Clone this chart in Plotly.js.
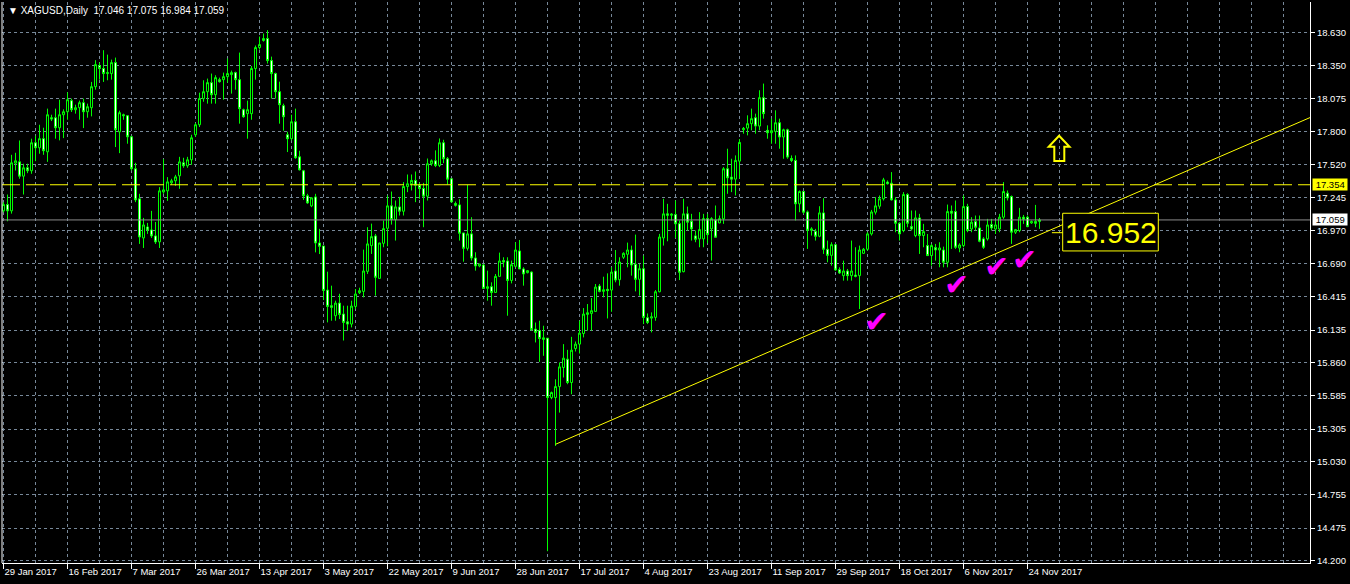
<!DOCTYPE html>
<html><head><meta charset="utf-8">
<script src="https://cdn.plot.ly/plotly-3.0.1.min.js"></script>
<style>html,body{margin:0;padding:0;background:#000;}#chart{width:1350px;height:584px;}</style>
</head><body><div id="chart"></div>
<script>
const openP = [
17.135,17.188,17.135,17.535,17.546,17.426,17.496,17.471,17.706,17.664,
17.740,17.630,17.916,17.916,17.832,17.941,17.966,18.059,17.983,18.000,
18.042,17.966,18.000,18.176,18.353,18.328,18.286,18.286,18.378,17.798,
17.941,17.933,17.756,17.488,17.236,16.908,17.000,16.975,16.925,16.875,
17.294,17.303,17.370,17.387,17.429,17.538,17.513,17.563,17.773,17.857,
18.076,18.134,18.210,18.109,18.235,18.235,18.260,18.277,18.294,18.235,
17.983,17.950,17.950,18.328,18.504,18.563,18.580,18.395,18.286,18.134,
18.017,17.773,17.740,17.882,17.588,17.471,17.261,17.177,17.252,16.866,
16.841,16.471,16.340,16.256,16.362,16.270,16.205,16.186,16.334,16.449,
16.460,16.628,16.844,16.925,16.569,16.863,16.989,17.177,17.062,17.168,
17.132,17.339,17.362,17.390,17.350,17.322,17.258,17.530,17.555,17.516,
17.706,17.572,17.404,17.196,17.185,16.950,16.821,16.942,16.740,16.673,
16.681,16.485,16.499,16.451,16.586,16.718,16.715,16.552,16.670,16.799,
16.648,16.617,16.622,16.144,16.132,16.057,16.068,15.570,15.570,15.662,
15.822,15.892,15.696,15.981,16.018,16.107,16.267,16.275,16.292,16.505,
16.460,16.477,16.471,16.631,16.558,16.746,16.771,16.807,16.687,16.561,
16.650,16.239,16.236,16.242,16.457,16.908,17.110,17.098,17.104,17.028,
16.625,17.110,17.048,16.925,16.900,16.900,17.070,16.984,17.059,17.034,
17.068,17.488,17.418,17.401,17.552,17.815,17.829,17.866,17.916,17.846,
18.084,17.810,17.790,17.801,17.874,17.754,17.815,17.574,17.558,17.194,
17.297,17.126,16.972,16.964,16.922,17.118,16.813,16.762,16.852,16.642,
16.592,16.631,16.592,16.597,16.592,16.779,16.813,16.942,17.124,17.174,
17.236,17.376,17.367,17.227,17.031,16.970,17.272,17.003,16.928,17.076,
16.928,16.844,16.760,16.827,16.807,16.807,16.704,17.132,17.129,16.824,
16.844,17.171,16.983,17.045,16.992,16.900,16.900,17.020,16.983,16.983,
17.082,17.283,17.255,16.956,16.970,17.082,17.082,17.034,17.045,17.046];
const highP = [
17.208,17.272,17.605,17.622,17.725,17.530,17.530,17.740,17.765,17.857,
17.832,17.992,17.941,17.992,18.067,17.986,18.129,18.076,18.025,18.059,
18.076,18.034,18.216,18.398,18.378,18.482,18.445,18.403,18.420,17.975,
17.950,17.933,17.765,17.538,17.278,17.076,17.034,17.135,17.042,17.334,
17.569,17.418,17.404,17.437,17.588,17.580,17.588,17.773,17.871,18.126,
18.230,18.244,18.286,18.272,18.252,18.294,18.412,18.311,18.302,18.462,
17.992,18.059,18.350,18.521,18.596,18.622,18.650,18.428,18.294,18.218,
18.034,17.798,17.941,17.992,17.639,17.479,17.278,17.250,17.278,16.984,
16.841,16.625,16.508,16.382,16.440,16.340,16.340,16.382,16.480,16.491,
16.810,16.998,17.028,16.942,16.866,17.054,17.264,17.297,17.222,17.252,
17.376,17.440,17.440,17.465,17.370,17.370,17.574,17.566,17.642,17.742,
17.731,17.586,17.404,17.213,17.233,16.950,17.353,17.082,16.788,16.690,
16.690,16.634,16.536,16.606,16.785,16.746,16.746,16.718,16.872,16.891,
16.662,16.639,16.628,16.199,16.214,16.172,16.068,15.620,15.723,15.864,
16.018,15.970,16.079,16.040,16.214,16.320,16.354,16.404,16.522,16.522,
16.583,16.611,16.662,16.807,16.746,16.788,16.869,16.844,16.936,16.690,
16.760,16.275,16.284,16.471,16.942,17.236,17.194,17.115,17.222,17.054,
17.236,17.171,17.110,16.970,17.124,17.110,17.110,17.082,17.180,17.096,
17.502,17.656,17.572,17.600,17.737,17.838,17.936,17.992,17.950,18.146,
18.202,17.852,17.908,17.978,17.908,17.824,17.824,17.600,17.600,17.306,
17.297,17.138,16.998,16.984,17.174,17.241,16.886,16.872,16.858,16.662,
16.718,16.648,16.886,16.830,16.844,16.824,16.956,17.143,17.250,17.264,
17.412,17.390,17.460,17.250,17.040,17.292,17.283,17.138,17.138,17.110,
17.026,16.941,16.858,16.858,16.872,16.835,17.188,17.180,17.222,16.863,
17.264,17.194,17.082,17.096,17.096,16.914,17.068,17.068,17.054,17.110,
17.376,17.306,17.264,16.984,17.160,17.101,17.096,17.054,17.185,17.075];
const lowP = [
17.123,17.048,17.112,17.474,17.404,17.272,17.451,17.446,17.552,17.614,
17.605,17.546,17.888,17.740,17.726,17.745,17.899,17.964,17.950,17.899,
17.829,17.916,17.927,18.151,18.235,18.216,18.230,18.235,17.670,17.619,
17.899,17.698,17.474,17.208,16.858,16.824,16.942,16.908,16.858,16.824,
17.278,17.219,17.353,17.345,17.320,17.496,17.496,17.521,17.754,17.838,
18.050,18.034,18.034,18.034,18.210,18.067,18.210,18.118,18.151,17.866,
17.916,17.740,17.899,18.235,18.487,18.554,18.370,18.076,18.076,17.866,
17.807,17.628,17.726,17.572,17.474,17.227,17.194,17.166,16.787,16.773,
16.387,16.200,16.214,16.214,16.228,16.048,16.130,16.158,16.312,16.438,
16.410,16.606,16.774,16.424,16.569,16.830,16.838,17.020,16.886,17.096,
17.096,17.292,17.306,17.208,17.236,16.998,17.222,17.513,17.502,17.502,
17.535,17.356,17.208,17.171,16.886,16.709,16.802,16.718,16.634,16.662,
16.480,16.382,16.340,16.451,16.586,16.662,16.256,16.527,16.662,16.648,
16.508,16.611,16.130,16.032,15.869,15.920,14.282,15.556,15.164,15.444,
15.738,15.682,15.598,15.956,15.939,16.074,16.130,16.130,16.292,16.452,
16.410,16.233,16.289,16.536,16.508,16.732,16.662,16.592,16.460,16.424,
16.186,16.186,16.116,16.214,16.452,16.844,16.880,17.054,16.908,16.555,
16.620,16.970,16.886,16.872,16.830,16.830,16.863,16.718,16.914,17.031,
17.026,17.278,17.292,17.264,17.404,17.782,17.768,17.810,17.782,17.810,
17.908,17.740,17.698,17.698,17.656,17.572,17.572,17.544,17.054,17.124,
17.110,16.816,16.928,16.886,16.914,16.774,16.704,16.676,16.634,16.606,
16.550,16.550,16.550,16.578,16.312,16.774,16.802,16.928,17.104,17.152,
17.222,17.356,17.222,16.956,16.886,16.956,16.998,16.970,16.914,16.774,
16.830,16.760,16.676,16.718,16.662,16.662,16.662,16.816,16.816,16.788,
16.830,16.956,16.956,16.970,16.872,16.816,16.886,16.970,16.941,16.956,
17.068,17.222,16.858,16.941,16.956,17.026,16.998,17.026,16.998,16.984];
const closeP = [
17.188,17.135,17.538,17.555,17.426,17.496,17.471,17.706,17.664,17.740,
17.639,17.941,17.905,17.832,17.941,17.966,18.067,17.983,18.000,18.042,
17.966,18.008,18.176,18.361,18.328,18.286,18.294,18.378,17.815,17.958,
17.933,17.756,17.488,17.227,16.916,17.017,16.975,16.925,16.875,17.303,
17.311,17.378,17.387,17.420,17.546,17.513,17.563,17.748,17.857,18.076,
18.134,18.210,18.109,18.252,18.218,18.260,18.286,18.294,18.235,17.992,
17.924,17.983,18.328,18.504,18.529,18.580,18.395,18.286,18.134,18.025,
17.924,17.740,17.882,17.580,17.479,17.261,17.202,17.244,16.866,16.838,
16.468,16.334,16.326,16.362,16.267,16.200,16.186,16.337,16.438,16.466,
16.631,16.858,16.919,16.578,16.866,16.986,17.177,17.062,17.168,17.132,
17.339,17.362,17.390,17.350,17.322,17.258,17.530,17.555,17.516,17.706,
17.572,17.401,17.210,17.182,16.947,16.821,16.942,16.740,16.673,16.690,
16.485,16.499,16.451,16.586,16.715,16.706,16.552,16.684,16.807,16.648,
16.606,16.634,16.141,16.116,16.065,16.071,15.570,15.612,15.662,15.827,
15.900,15.696,15.967,16.018,16.110,16.270,16.281,16.298,16.496,16.460,
16.474,16.466,16.622,16.555,16.706,16.779,16.807,16.681,16.561,16.650,
16.242,16.200,16.247,16.457,16.916,17.110,17.098,17.107,17.026,16.620,
17.110,17.040,16.984,16.897,16.978,17.070,16.936,17.070,16.914,17.070,
17.488,17.412,17.401,17.558,17.709,17.826,17.866,17.908,17.846,18.084,
17.950,17.790,17.807,17.874,17.754,17.815,17.586,17.558,17.194,17.297,
17.124,16.972,16.984,16.922,17.118,16.813,16.762,16.852,16.639,16.614,
16.631,16.592,16.631,16.586,16.807,16.813,16.942,17.126,17.177,17.236,
17.395,17.362,17.227,17.031,16.942,17.272,17.031,16.983,17.076,16.928,
16.961,16.760,16.844,16.807,16.824,16.704,17.129,17.115,16.830,16.849,
17.171,16.970,17.040,16.998,16.880,16.830,17.017,16.992,17.017,17.082,
17.297,17.244,16.956,16.978,17.082,17.065,17.003,17.045,17.031,17.059];

const dateLabels = ['29 Jan 2017','16 Feb 2017','7 Mar 2017','26 Mar 2017','13 Apr 2017','3 May 2017',
  '22 May 2017','9 Jun 2017','28 Jun 2017','17 Jul 2017','4 Aug 2017','23 Aug 2017','11 Sep 2017',
  '29 Sep 2017','18 Oct 2017','6 Nov 2017','24 Nov 2017'];
const priceTicks = [18.630,18.350,18.075,17.800,17.520,17.245,16.970,16.690,16.415,16.135,
  15.860,15.585,15.305,15.030,14.755,14.475,14.200];
const trendX = [138, 330];
const trendY = [15.178, 17.966];
const resistanceLevel = 17.354;
const bidLevel = 17.059;
const targetLevel = 16.952;
const symbolName = 'XAGUSD,Daily';

const barIdx = openP.map((_, i) => i);
const labelIdx = dateLabels.map((_, i) => i * 16);
const gridIdx = []; for (let g = 0; g <= 326; g += 8) gridIdx.push(g);
const last = openP.length - 1;
const FONT = 'Liberation Sans, Arial, sans-serif';
const GRID = '#778899';

const traces = [
  {type: 'candlestick', x: barIdx, open: openP, high: highP, low: lowP, close: closeP,
   increasing: {line: {color: '#00ff00', width: 1}, fillcolor: '#000000'},
   decreasing: {line: {color: '#00ff00', width: 1}, fillcolor: '#ffffff'},
   whiskerwidth: 0, hoverinfo: 'skip', showlegend: false},
  {type: 'scatter', mode: 'lines', x: trendX, y: trendY, line: {color: '#ffff00', width: 1},
   hoverinfo: 'skip', showlegend: false}
];

const checks = [[218.2, 16.205], [238.2, 16.515], [248.2, 16.666], [255.2, 16.725]];

const annotations = [
  {xref: 'paper', yref: 'paper', x: 0, y: 1, xanchor: 'left', yanchor: 'top', xshift: 4, yshift: -1,
   showarrow: false, font: {family: FONT, size: 10, color: '#ffffff'},
   text: '\u25BC\u00a0' + symbolName + '\u00a0\u00a0' +
     [openP[last], highP[last], lowP[last], closeP[last]].map(v => v.toFixed(3)).join(' ')},
  {xref: 'paper', yref: 'y', x: 1, y: resistanceLevel, xanchor: 'left', yanchor: 'middle', xshift: 2,
   showarrow: false, bgcolor: '#ffff00', borderpad: 0,
   font: {family: FONT, size: 9.5, color: '#000000'}, text: '\u00a0' + resistanceLevel.toFixed(3) + '\u00a0'},
  {xref: 'paper', yref: 'y', x: 1, y: bidLevel, xanchor: 'left', yanchor: 'middle', xshift: 2,
   showarrow: false, bgcolor: '#ffffff', borderpad: 0,
   font: {family: FONT, size: 9.5, color: '#000000'}, text: '\u00a0' + bidLevel.toFixed(3) + '\u00a0'},
  {xref: 'x', yref: 'y', x: 276.75, y: 16.957, showarrow: false,
   font: {family: FONT, size: 30, color: '#ffff00'}, text: targetLevel.toFixed(3)}
].concat(checks.map(c => ({xref: 'x', yref: 'y', x: c[0], y: c[1], showarrow: false,
   font: {family: 'DejaVu Sans', size: 30, color: '#ff00ff'}, text: '\u2714'})));

const shapes = [
  {type: 'line', xref: 'paper', yref: 'y', x0: 0, x1: 1, y0: bidLevel, y1: bidLevel,
   line: {color: '#8c8c8c', width: 1}, layer: 'above'},
  {type: 'line', xref: 'paper', yref: 'y', x0: 0, x1: 1, y0: resistanceLevel, y1: resistanceLevel,
   line: {color: '#ffff00', width: 1, dash: '18px,6px'}, layer: 'above'},
  {type: 'line', xref: 'paper', yref: 'paper', x0: 0, x1: 0, y0: 0, y1: 1,
   line: {color: '#ffffff', width: 1}, layer: 'above'},
  {type: 'rect', xref: 'x', yref: 'y', x0: 264.8, x1: 288.7, y0: 16.799, y1: 17.115,
   line: {color: '#ffff00', width: 1}, fillcolor: '#000000', layer: 'above'},
  {type: 'line', xref: 'x', yref: 'y', x0: 262.1, x1: 264.8, y0: targetLevel, y1: targetLevel,
   line: {color: '#ffff00', width: 1}, layer: 'above'},
  {type: 'path', xref: 'x', yref: 'y', layer: 'above',
   path: 'M 263.9,17.765 L 266.5,17.673 L 265.2,17.673 L 265.2,17.553 L 262.7,17.553 L 262.7,17.673 L 261.3,17.673 Z',
   line: {color: '#ffff00', width: 2}, fillcolor: 'rgba(0,0,0,0)'}
];

const layout = {
  width: 1350, height: 584,
  paper_bgcolor: '#000000', plot_bgcolor: '#000000',
  margin: {l: 2, r: 40, t: 2, b: 21, pad: 0},
  showlegend: false, boxgap: 0.5, boxgroupgap: 0,
  font: {family: FONT, size: 9.5, color: '#ffffff'},
  xaxis: {
    range: [-0.375, 326.625], rangeslider: {visible: false}, type: 'linear',
    tickmode: 'array', tickvals: labelIdx, ticktext: dateLabels,
    ticks: 'outside', ticklen: 5, tickcolor: '#ffffff', tickwidth: 1,
    ticklabelposition: 'outside right',
    tickfont: {family: FONT, size: 9.5, color: '#ffffff'},
    showgrid: true, gridcolor: GRID, gridwidth: 1, griddash: '3px,3px',
    minor: {tickmode: 'array', tickvals: gridIdx, showgrid: true, gridcolor: GRID, griddash: '3px,3px', ticks: '', ticklen: 0},
    showline: true, linecolor: '#ffffff', linewidth: 1, zeroline: false
  },
  yaxis: {
    side: 'right', range: [14.183, 18.886],
    tickmode: 'array', tickvals: priceTicks, ticktext: priceTicks.map(v => v.toFixed(3)),
    ticks: 'outside', ticklen: 4, tickcolor: '#ffffff', tickwidth: 1,
    tickfont: {family: FONT, size: 9.5, color: '#ffffff'},
    showgrid: true, gridcolor: GRID, gridwidth: 1, griddash: '3px,3px',
    showline: true, linecolor: '#ffffff', linewidth: 1, zeroline: false
  },
  shapes: shapes,
  annotations: annotations
};

Plotly.newPlot('chart', traces, layout, {staticPlot: true, displayModeBar: false});
</script>
</body></html>
